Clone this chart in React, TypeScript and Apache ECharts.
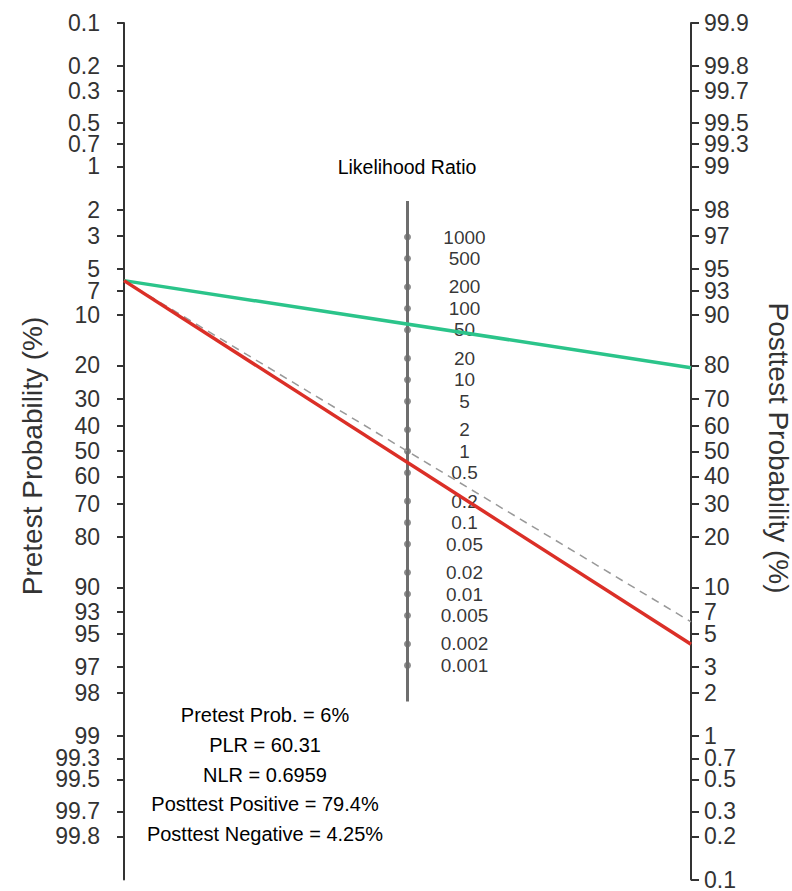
import React, { useEffect, useRef } from "react";
import * as echarts from "echarts";

// ---- data ----
const pretestTicks = [0.1, 0.2, 0.3, 0.5, 0.7, 1, 2, 3, 5, 7, 10, 20, 30, 40, 50, 60, 70, 80, 90, 93, 95, 97, 98, 99, 99.3, 99.5, 99.7, 99.8];
const posttestTicks = [99.9, 99.8, 99.7, 99.5, 99.3, 99, 98, 97, 95, 93, 90, 80, 70, 60, 50, 40, 30, 20, 10, 7, 5, 3, 2, 1, 0.7, 0.5, 0.3, 0.2, 0.1];
const lrValues = [1000, 500, 200, 100, 50, 20, 10, 5, 2, 1, 0.5, 0.2, 0.1, 0.05, 0.02, 0.01, 0.005, 0.002, 0.001];
const lrAxisExtent = [3200, 1 / 3200];
const probRange = [0.1, 99.9];
const pretestProb = 6;
const plr = 60.31;
const nlr = 0.6959;
const posttestPositive = 79.4;
const posttestNegative = 4.25;
const annotationLines = [
  `Pretest Prob. = ${pretestProb}%`,
  `PLR = ${plr}`,
  `NLR = ${nlr}`,
  `Posttest Positive = ${posttestPositive}%`,
  `Posttest Negative = ${posttestNegative}%`,
];

const logit = (pct: number) => Math.log(pct / 100 / (1 - pct / 100));
const postProb = (pre: number, lr: number) => {
  const odds = (pre / 100) / (1 - pre / 100) * lr;
  return (odds / (1 + odds)) * 100;
};

const FONT = "'Liberation Sans', Arial, Helvetica, sans-serif";

export default function App() {
  const ref = useRef<HTMLDivElement>(null);
  useEffect(() => {
    if (!ref.current) return;
    const chart = echarts.init(ref.current, undefined, { renderer: "svg" });
    const lo = logit(probRange[0]);
    const hi = logit(probRange[1]);
    const leftVals = pretestTicks.map(logit);
    const rightVals = posttestTicks.map(logit);
    const findLabel = (ticks: number[], v: number) => {
      for (const t of ticks) if (Math.abs(logit(t) - v) < 1e-6) return String(t);
      return "";
    };
    const preC = logit(pretestProb);
    const posC = -logit(postProb(pretestProb, plr));
    const negC = -logit(postProb(pretestProb, nlr));
    const oneC = -logit(postProb(pretestProb, 1));
    const lrC = (lr: number) => -Math.log(lr) / 2;

    const option: any = {
      animation: false,
      backgroundColor: "#ffffff",
      textStyle: { fontFamily: FONT },
      grid: { left: 124, right: 101, top: 23, bottom: 9, containLabel: false },
      xAxis: { type: "value", min: 0, max: 1, show: false },
      yAxis: [
        {
          type: "value",
          position: "left",
          min: lo,
          max: hi,
          inverse: true,
          splitLine: { show: false },
          axisLine: { show: true, lineStyle: { color: "#333", width: 2 } },
          axisTick: { show: true, customValues: leftVals, length: 7, lineStyle: { color: "#333", width: 2 } },
          axisLabel: {
            customValues: leftVals,
            margin: 24,
            fontSize: 23,
            lineHeight: 17,
            color: "#333",
            fontFamily: FONT,
            formatter: (v: number) => findLabel(pretestTicks, v),
          },
        },
        {
          type: "value",
          position: "right",
          min: lo,
          max: hi,
          splitLine: { show: false },
          axisLine: { show: true, lineStyle: { color: "#333", width: 2 } },
          axisTick: { show: true, customValues: rightVals, length: 8, lineStyle: { color: "#333", width: 2 } },
          axisLabel: {
            customValues: rightVals,
            margin: 13,
            fontSize: 23,
            lineHeight: 17,
            color: "#333",
            fontFamily: FONT,
            formatter: (v: number) => findLabel(posttestTicks, v),
          },
        },
      ],
      series: [
        {
          type: "line",
          data: [[0.5, lrC(lrAxisExtent[0])], [0.5, lrC(lrAxisExtent[1])]],
          symbol: "none",
          lineStyle: { color: "#6e6e6e", width: 3 },
          silent: true,
          z: 2,
        },
        {
          type: "scatter",
          data: lrValues.map((lr) => [0.5, lrC(lr), lr]),
          symbolSize: 7,
          itemStyle: { color: "#6e6e6e" },
          label: {
            show: true,
            position: "inside",
            offset: [57, 0],
            align: "center",
            verticalAlign: "middle",
            fontSize: 19,
            color: "#000",
            fontFamily: FONT,
            formatter: (p: any) => String(p.value[2]),
          },
          z: 3,
        },
        {
          type: "line",
          data: [[0, preC], [1, oneC]],
          symbol: "none",
          lineStyle: { color: "#999", width: 1.5, type: [8, 6] },
          z: 4,
        },
        {
          type: "line",
          data: [[0, preC], [1, posC]],
          symbol: "none",
          lineStyle: { color: "#2BC48A", width: 3.5 },
          z: 5,
        },
        {
          type: "line",
          data: [[0, preC], [1, negC]],
          symbol: "none",
          lineStyle: { color: "#DB2F27", width: 3.5 },
          z: 5,
        },
      ],
      graphic: [
        {
          type: "text",
          x: 407,
          y: 167,
          style: { text: "Likelihood Ratio", font: `19.5px ${FONT}`, fill: "#000", textAlign: "center", textVerticalAlign: "middle" },
        },
        {
          type: "text",
          x: 32,
          y: 456,
          rotation: Math.PI / 2,
          style: { text: "Pretest Probability (%)", font: `28px ${FONT}`, fill: "#333", textAlign: "center", textVerticalAlign: "middle" },
        },
        {
          type: "text",
          x: 778,
          y: 448,
          rotation: -Math.PI / 2,
          style: { text: "Posttest Probability (%)", font: `28px ${FONT}`, fill: "#333", textAlign: "center", textVerticalAlign: "middle" },
        },
        ...annotationLines.map((t, i) => ({
          type: "text",
          x: 265,
          y: 715 + i * 29.8,
          style: { text: t, font: `20px ${FONT}`, fill: "#000", textAlign: "center", textVerticalAlign: "middle" },
        })),
      ],
    };
    chart.setOption(option);
    return () => chart.dispose();
  }, []);
  return <div ref={ref} style={{ position: "fixed", left: 0, top: 0, width: 792, height: 891 }} />;
}
